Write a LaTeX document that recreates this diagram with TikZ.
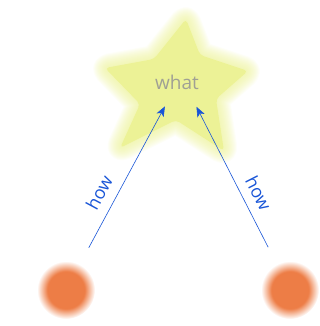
\documentclass[tikz,border=0pt]{standalone}
\usepackage{fontspec}
\setmainfont{Open Sans}
\usetikzlibrary{arrows.meta}

\definecolor{staryellow}{RGB}{236,242,150}
\definecolor{dotorange}{RGB}{237,125,70}
\definecolor{howblue}{RGB}{25,85,215}
\definecolor{whatgray}{RGB}{160,160,148}

\pgfdeclareradialshading{softdot}{\pgfpoint{0bp}{0bp}}{color(0bp)=(dotorange); color(16bp)=(dotorange); color(20bp)=(dotorange!55!white); color(25bp)=(white); color(50bp)=(white)}

\newcommand\starpath{(186,307) -- (200,271) -- (248,255) -- (216,227) -- (224,175) -- (176,206) -- (120,178) -- (140,222) -- (105,258) -- (154,267) -- cycle}

\tikzset{
  srcdot/.style={circle, shading=softdot, minimum size=58pt, inner sep=0pt},
  howarrow/.style={-{Stealth[length=10pt,width=8pt,inset=2.5pt]}, howblue, line width=0.6pt, shorten <=48pt, shorten >=34pt},
  howlabel/.style={sloped, pos=0.42, text=howblue, font=\fontsize{18}{18}\selectfont, inner sep=0pt}
}

\begin{document}
\begin{tikzpicture}[x=1pt, y=1pt]
    \useasboundingbox (0,0) rectangle (320,326);

    % soft star
    \foreach \w in {1,...,28}
        \draw[staryellow, opacity=0.04, line width=\w pt, line join=round, rounded corners=4pt] \starpath;
    \fill[staryellow, rounded corners=4pt] \starpath;
    \coordinate (goal) at (181,249.5);
    \node[text=whatgray, font=\fontsize{19}{19}\selectfont] (what) at (177,244) {what};

    % soft dots
    \node[srcdot] (lsrc) at (66,36) {};
    \node[srcdot] (rsrc) at (290,36) {};

    \draw[howarrow] (lsrc.center) -- node[howlabel, above=10pt] {how} (goal);
    \draw[howarrow] (rsrc.center) -- node[howlabel, above=9pt] {how} (goal);
\end{tikzpicture}
\end{document}
